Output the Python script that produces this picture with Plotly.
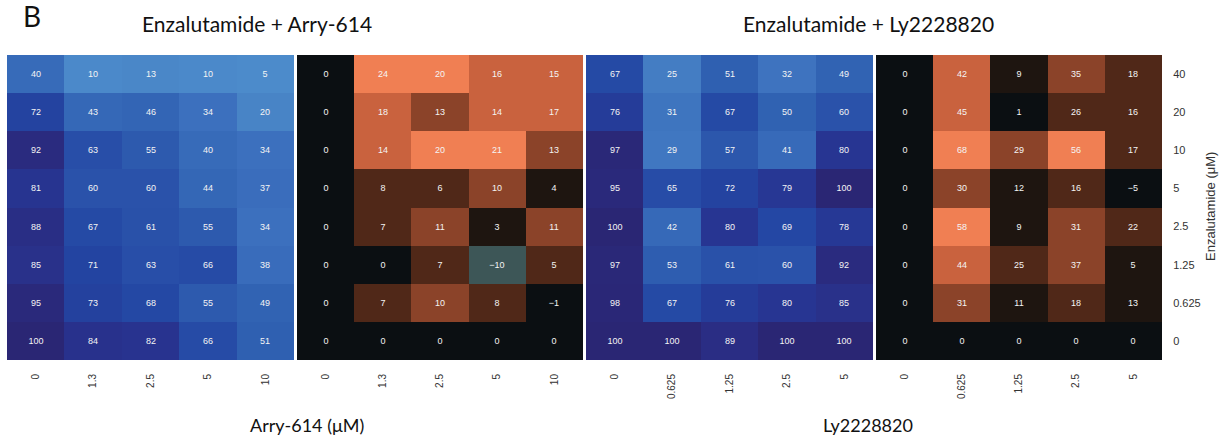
import plotly.graph_objects as go

# Enzalutamide concentrations (µM), listed top row first
enz_levels = ["40", "20", "10", "5", "2.5", "1.25", "0.625", "0"]
arry_levels = ["0", "1.3", "2.5", "5", "10"]
ly_levels = ["0", "0.625", "1.25", "2.5", "5"]

# % viability, Enzalutamide + Arry-614
arry_viability = [
    [40, 10, 13, 10, 5],
    [72, 43, 46, 34, 20],
    [92, 63, 55, 40, 34],
    [81, 60, 60, 44, 37],
    [88, 67, 61, 55, 34],
    [85, 71, 63, 66, 38],
    [95, 73, 68, 55, 49],
    [100, 84, 82, 66, 51],
]
# synergy score, Enzalutamide + Arry-614
arry_synergy = [
    [0, 24, 20, 16, 15],
    [0, 18, 13, 14, 17],
    [0, 14, 20, 21, 13],
    [0, 8, 6, 10, 4],
    [0, 7, 11, 3, 11],
    [0, 0, 7, -10, 5],
    [0, 7, 10, 8, -1],
    [0, 0, 0, 0, 0],
]
# % viability, Enzalutamide + Ly2228820
ly_viability = [
    [67, 25, 51, 32, 49],
    [76, 31, 67, 50, 60],
    [97, 29, 57, 41, 80],
    [95, 65, 72, 79, 100],
    [100, 42, 80, 69, 78],
    [97, 53, 61, 60, 92],
    [98, 67, 76, 80, 85],
    [100, 100, 89, 100, 100],
]
# synergy score, Enzalutamide + Ly2228820
ly_synergy = [
    [0, 42, 9, 35, 18],
    [0, 45, 1, 26, 16],
    [0, 68, 29, 56, 17],
    [0, 30, 12, 16, -5],
    [0, 58, 9, 31, 22],
    [0, 44, 25, 37, 5],
    [0, 31, 11, 18, 13],
    [0, 0, 0, 0, 0],
]

W, H = 1221, 441

BLUES = [
    [0.00, "#4d8dcd"],
    [0.20, "#4884c6"],
    [0.35, "#3b6fbd"],
    [0.50, "#3062b2"],
    [0.60, "#2a52aa"],
    [0.70, "#2346a3"],
    [0.80, "#273592"],
    [0.90, "#2a2c82"],
    [1.00, "#2a2674"],
]

FIRE = ["#3d5657", "#0b0f12", "#1e1510", "#502818", "#8b4329", "#c9623e", "#f07f53"]


def stepped(breaks, colors):
    lo, hi = breaks[0], breaks[-1]
    scale = []
    for i, c in enumerate(colors):
        a = (breaks[i] - lo) / (hi - lo)
        b = (breaks[i + 1] - lo) / (hi - lo)
        scale.append([a, c])
        scale.append([b, c])
    return scale, lo, hi


def labels(m):
    return [[str(v).replace("-", "\u2212") for v in row] for row in m]


panels = [
    (arry_viability, arry_levels, BLUES, 0, 100),
    (arry_synergy, arry_levels) + stepped([-12, -5, 2, 4.5, 9.5, 13.5, 19, 26], FIRE),
    (ly_viability, ly_levels, BLUES, 0, 100),
    (ly_synergy, ly_levels) + stepped([-30, -12, 3, 14, 27.5, 39, 52, 70], FIRE),
]

x_px = [(7, 294), (297, 583), (586, 873), (876, 1162)]
y_dom = [1 - 360 / H, 1 - 55 / H]

fig = go.Figure()
layout = {}
for i, (z, xcats, cs, zmin, zmax) in enumerate(panels):
    n = "" if i == 0 else str(i + 1)
    fig.add_trace(go.Heatmap(
        z=z, x=xcats, y=enz_levels,
        text=labels(z), texttemplate="%{text}",
        textfont=dict(family="Liberation Sans, Arial", size=9, color="#f4f4f4"),
        colorscale=cs, zmin=zmin, zmax=zmax, showscale=False,
        xaxis="x" + n, yaxis="y" + n, hoverinfo="skip",
    ))
    layout["xaxis" + n] = dict(
        domain=[x_px[i][0] / W, x_px[i][1] / W], anchor="y" + n,
        type="category", tickangle=-90, showgrid=False, zeroline=False,
        ticks="outside", ticklen=9, tickcolor="rgba(0,0,0,0)",
        tickfont=dict(family="Liberation Sans, Arial", size=10, color="#333333"),
        showline=False, fixedrange=True,
    )
    layout["yaxis" + n] = dict(
        domain=y_dom, anchor="x" + n, type="category",
        categoryorder="array", categoryarray=enz_levels[::-1],
        showgrid=False, zeroline=False, showline=False,
        showticklabels=(i == 3), side="right",
        ticks="outside" if i == 3 else "", ticklen=8, tickcolor="rgba(0,0,0,0)",
        tickfont=dict(family="Liberation Sans, Arial", size=11, color="#333333"),
        fixedrange=True,
    )

title_font = dict(family="Lato, Open Sans, sans-serif", size=21, color="#111111")
axis_font = dict(family="Lato, Open Sans, sans-serif", size=18, color="#111111")
annotations = [
    dict(text="B", x=32 / W, y=1 - 16 / H, xanchor="center", yanchor="middle",
         font=dict(family="Lato, Open Sans, sans-serif", size=28, color="#111111")),
    dict(text="Enzalutamide + Arry-614", x=257 / W, y=1 - 24 / H,
         xanchor="center", yanchor="middle", font=title_font),
    dict(text="Enzalutamide + Ly2228820", x=868 / W, y=1 - 24 / H,
         xanchor="center", yanchor="middle", font=title_font),
    dict(text="Arry-614 (\u03bcM)", x=307 / W, y=1 - 425 / H,
         xanchor="center", yanchor="middle", font=axis_font),
    dict(text="Ly2228820", x=868 / W, y=1 - 425 / H,
         xanchor="center", yanchor="middle", font=axis_font),
    dict(text="Enzalutamide (\u03bcM)", x=1210 / W, y=1 - 207 / H, textangle=-90,
         xanchor="center", yanchor="middle",
         font=dict(family="Liberation Sans, Arial", size=13, color="#333333")),
]
for a in annotations:
    a.update(xref="paper", yref="paper", showarrow=False)

fig.update_layout(
    width=W, height=H, autosize=False,
    margin=dict(l=0, r=0, t=0, b=0),
    paper_bgcolor="white", plot_bgcolor="white",
    annotations=annotations, **layout,
)

fig.write_html("out.html", config={"displayModeBar": False})
